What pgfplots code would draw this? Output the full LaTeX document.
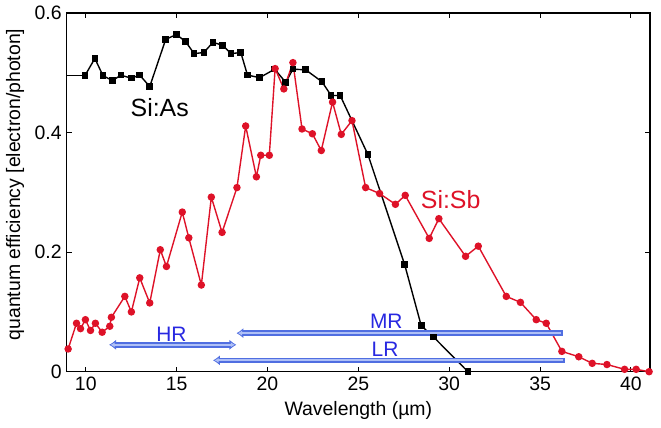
\documentclass[border=0pt]{standalone}
\usepackage{fontspec}
\setmainfont{Liberation Sans}
\usepackage{pgfplots}
\pgfplotsset{compat=1.18}
\usetikzlibrary{arrows.meta}
\definecolor{sired}{RGB}{222,18,40}
\definecolor{arrout}{RGB}{80,110,225}
\definecolor{arrin}{RGB}{175,192,246}
\definecolor{lblue}{RGB}{40,40,225}
\begin{document}
\begin{tikzpicture}
\begin{axis}[name=ax, scale only axis, width=583.3bp, height=358.7bp,
  xmin=8.95, xmax=41.05, ymin=0, ymax=0.6,
  xtick={10,15,20,25,30,35,40}, ytick={0,0.2,0.4,0.6},
  tick align=inside, major tick length=5bp,
  tick style={line width=1pt, black},
  axis line style={line width=1.4pt},
  tick label style={font=\fontsize{19.5}{21}\selectfont},
  xticklabel style={yshift=-1.5bp},
  yticklabel style={xshift=-1.5bp},
  /pgf/number format/assume math mode=true,
  xlabel={Wavelength (µm)},
  ylabel={quantum efficiency [electron/photon]},
  label style={font=\fontsize{19.5}{21}\selectfont},
  xlabel style={at={(axis description cs:0.5,-0.107)}, anchor=center},
  ylabel style={at={(axis description cs:-0.0886,0.522)}, anchor=center},
]
\addplot[black, line width=1.4pt, no marks] coordinates {(8.9,0.495)(9.95,0.495)};
\addplot[black, line width=1.4pt, mark=square*, mark size=2.6bp] coordinates {
(9.95,0.495)(10.5,0.524)(10.95,0.495)(11.47,0.487)(11.93,0.496)(12.5,0.491)(12.97,0.496)(13.52,0.477)(14.4,0.556)(14.99,0.564)(15.5,0.552)(15.96,0.532)(16.5,0.534)(17.0,0.551)(17.52,0.546)(18.0,0.532)(18.53,0.534)(18.9,0.496)(19.57,0.492)(20.4,0.506)(21.0,0.484)(21.4,0.506)(22.1,0.505)(23.0,0.485)(23.5,0.462)(24.0,0.462)(25.53,0.363)(27.55,0.179)(28.46,0.077)(29.14,0.058)(31.03,0.0)};
\addplot[sired, line width=1.4pt, mark=*, mark size=3bp] coordinates {
(9.03,0.038)(9.49,0.081)(9.71,0.072)(9.98,0.087)(10.26,0.069)(10.53,0.081)(10.9,0.066)(11.32,0.076)(11.41,0.091)(12.15,0.126)(12.51,0.100)(12.97,0.157)(13.52,0.115)(14.1,0.204)(14.44,0.176)(15.31,0.267)(15.67,0.224)(16.36,0.145)(16.91,0.292)(17.5,0.233)(18.32,0.308)(18.8,0.411)(19.39,0.326)(19.63,0.362)(20.1,0.362)(20.42,0.507)(20.9,0.473)(21.4,0.517)(21.9,0.406)(22.47,0.398)(22.96,0.370)(23.58,0.451)(24.06,0.397)(24.65,0.420)(25.4,0.308)(26.17,0.298)(27.04,0.280)(27.58,0.295)(28.9,0.223)(29.43,0.256)(30.9,0.193)(31.6,0.210)(33.14,0.126)(33.92,0.116)(34.79,0.087)(35.34,0.081)(36.2,0.034)(37.13,0.025)(37.87,0.014)(38.68,0.012)(39.65,0.004)(40.29,0.004)(41,0.0)};
% arrows
\foreach \xa/\xb/\yy/\st in {11.28/18.29/0.045/{<->}, 18.29/36.25/0.0645/{<-}, 17.0/36.35/0.019/{<-}}{
  \edef\tmp{\noexpand\draw[arrout, line width=5.5bp, arrows=\st, >={Latex[length=7bp,width=10.5bp]}] (axis cs:\xa,\yy) -- (axis cs:\xb,\yy);}\tmp
  \edef\tmp{\noexpand\draw[arrin, line width=2bp, arrows=\st, >={Latex[length=4bp,width=5bp]}, shorten <=1.6bp, shorten >=1.6bp] (axis cs:\xa,\yy) -- (axis cs:\xb,\yy);}\tmp
}
\node[font=\fontsize{25}{28}\selectfont, black] at (axis cs:14.07,0.442) {Si:As};
\node[font=\fontsize{25}{28}\selectfont, text=sired] at (axis cs:30.08,0.288) {Si:Sb};
\node[font=\fontsize{21}{24}\selectfont, text=lblue] at (axis cs:14.71,0.063) {HR};
\node[font=\fontsize{21}{24}\selectfont, text=lblue] at (axis cs:26.54,0.084) {MR};
\node[font=\fontsize{21}{24}\selectfont, text=lblue] at (axis cs:26.47,0.037) {LR};
\end{axis}
\pgfresetboundingbox
\path ([xshift=-66.7bp,yshift=-56.3bp]ax.south west) rectangle ([xshift=11bp,yshift=13bp]ax.north east);
\end{tikzpicture}
\end{document}
